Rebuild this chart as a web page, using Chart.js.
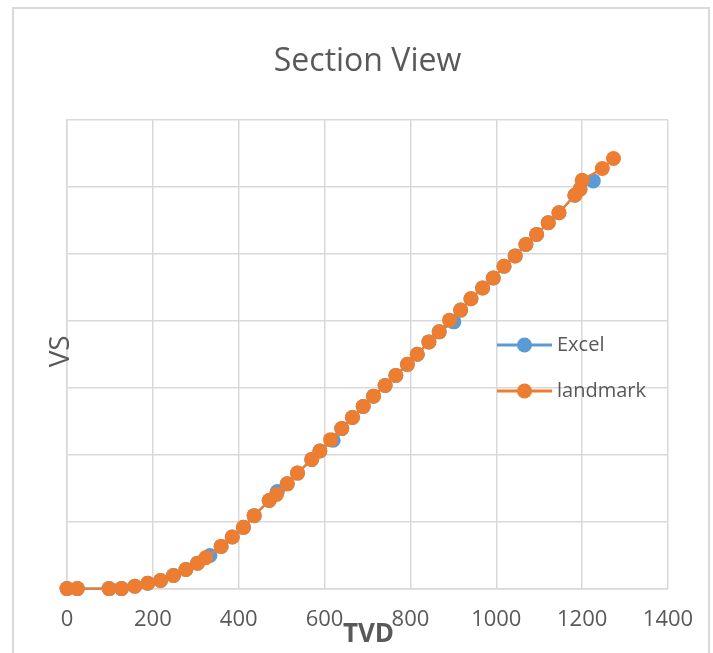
<!DOCTYPE html>
<html>
<head>
<meta charset="utf-8">
<script src="https://cdn.jsdelivr.net/npm/chart.js@4/dist/chart.umd.min.js"></script>
<style>
  html, body { margin: 0; padding: 0; background: #fff; }
  #wrap { width: 713px; height: 653px; position: relative; }
</style>
</head>
<body>
<div id="wrap"><canvas id="c" width="713" height="653"></canvas></div>
<script>
// ---- data ----
const chartTitle = "Section View";
const xAxisTitle = "TVD";
const yAxisTitle = "VS";
const seriesNames = ["Excel", "landmark"];
const xTicks = [0, 200, 400, 600, 800, 1000, 1200, 1400];

const excelTVD = [0, 24, 98, 127, 158, 188, 218, 248, 277, 304, 333, 359, 385, 411, 436, 471, 490, 513, 537, 570, 589, 620, 640, 665, 690, 714, 741, 766, 793, 816, 843, 867, 901, 917, 941, 968, 993, 1018, 1044, 1069, 1094, 1121, 1146, 1183, 1195, 1226];
const excelVS  = [0, 0, 0, 0, 7, 16, 24, 39, 57, 76, 99, 126, 154, 183, 218, 263, 290, 313, 345, 386, 411, 443, 478, 511, 544, 575, 607, 637, 670, 700, 737, 767, 797, 832, 866, 898, 928, 963, 994, 1028, 1058, 1093, 1123, 1175, 1193, 1218];

const landmarkTVD = [0, 24, 98, 127, 158, 188, 218, 248, 277, 304, 323, 359, 385, 411, 436, 471, 488, 513, 537, 570, 589, 614, 640, 665, 690, 714, 741, 766, 793, 816, 843, 867, 891, 917, 941, 968, 993, 1018, 1044, 1069, 1094, 1121, 1146, 1183, 1195, 1200, 1247, 1273];
const landmarkVS  = [0, 0, 0, 0, 7, 16, 24, 39, 57, 76, 92, 126, 154, 183, 218, 263, 281, 313, 345, 386, 411, 445, 478, 511, 544, 575, 607, 637, 670, 700, 737, 767, 802, 832, 866, 898, 928, 963, 994, 1028, 1058, 1093, 1123, 1175, 1193, 1220, 1255, 1285];

const toPts = (xs, ys) => xs.map((x, i) => ({ x: x, y: ys[i] }));

const BLUE = "#5B9BD5", ORANGE = "#ED7D31", GRID = "#d9d9d9", TXT = "#595959";
const FONT = "'Open Sans', 'Liberation Sans', sans-serif";

const decor = {
  id: "decor",
  beforeDraw(chart) {
    const ctx = chart.ctx;
    ctx.save();
    ctx.strokeStyle = GRID;
    ctx.lineWidth = 2;
    ctx.strokeRect(13, 8, 696, 720);
    ctx.restore();
  },
  afterDraw(chart) {
    const ctx = chart.ctx;
    const a = chart.chartArea;
    ctx.save();
    // axis titles
    ctx.fillStyle = TXT;
    ctx.textAlign = "center";
    ctx.textBaseline = "middle";
    ctx.font = "bold 26px " + FONT;
    ctx.fillText(xAxisTitle, (a.left + a.right) / 2 + 1, a.bottom + 46);
    ctx.save();
    ctx.translate(a.left - 6, (a.top + a.bottom) / 2 - 3);
    ctx.rotate(-Math.PI / 2);
    ctx.font = "28px " + FONT;
    ctx.fillText(yAxisTitle, 0, 0);
    ctx.restore();
    // legend
    const lx = a.left + 430, ly0 = a.top + 225, gap = 46;
    chart.data.datasets.forEach((ds, i) => {
      const y = ly0 + i * gap;
      ctx.strokeStyle = ds.borderColor;
      ctx.lineWidth = 3;
      ctx.beginPath();
      ctx.moveTo(lx, y);
      ctx.lineTo(lx + 55, y);
      ctx.stroke();
      ctx.fillStyle = ds.backgroundColor;
      ctx.beginPath();
      ctx.arc(lx + 27.5, y, 7.5, 0, Math.PI * 2);
      ctx.fill();
      ctx.fillStyle = TXT;
      ctx.textAlign = "left";
      ctx.font = "20px " + FONT;
      ctx.fillText(ds.label, lx + 60, y);
    });
    ctx.restore();
  }
};

new Chart(document.getElementById("c"), {
  type: "scatter",
  data: {
    datasets: [
      { label: seriesNames[0], data: toPts(excelTVD, excelVS), showLine: true, order: 2, clip: false,
        borderColor: BLUE, backgroundColor: BLUE, pointBackgroundColor: BLUE, pointBorderColor: BLUE,
        borderWidth: 2.25, pointRadius: 7.5, pointBorderWidth: 0, tension: 0 },
      { label: seriesNames[1], data: toPts(landmarkTVD, landmarkVS), showLine: true, order: 1, clip: false,
        borderColor: ORANGE, backgroundColor: ORANGE, pointBackgroundColor: ORANGE, pointBorderColor: ORANGE,
        borderWidth: 2.25, pointRadius: 7.5, pointBorderWidth: 0, tension: 0 }
    ]
  },
  options: {
    responsive: false,
    animation: false,
    layout: { padding: { left: 67, right: 45, top: 0, bottom: 2 } },
    plugins: {
      legend: { display: false },
      tooltip: { enabled: false },
      title: {
        display: true, text: chartTitle, color: TXT,
        font: { family: FONT, size: 32, weight: "normal" },
        padding: { top: 43, bottom: 38.6 }
      }
    },
    scales: {
      x: {
        type: "linear", min: xTicks[0], max: xTicks[xTicks.length - 1],
        afterBuildTicks: (s) => { s.ticks = xTicks.map(v => ({ value: v })); },
        grid: { color: GRID, lineWidth: 1.5, drawTicks: false },
        border: { color: GRID, width: 1.5 },
        ticks: { color: TXT, font: { family: FONT, size: 22 }, padding: 18, maxRotation: 0,
                 callback: (v) => String(v) }
      },
      y: {
        min: 0, max: 1400,
        ticks: { display: false, stepSize: 200 },
        grid: { color: GRID, lineWidth: 1.5, drawTicks: false },
        border: { color: GRID, width: 1.5 }
      }
    }
  },
  plugins: [decor]
});
</script>
</body>
</html>
